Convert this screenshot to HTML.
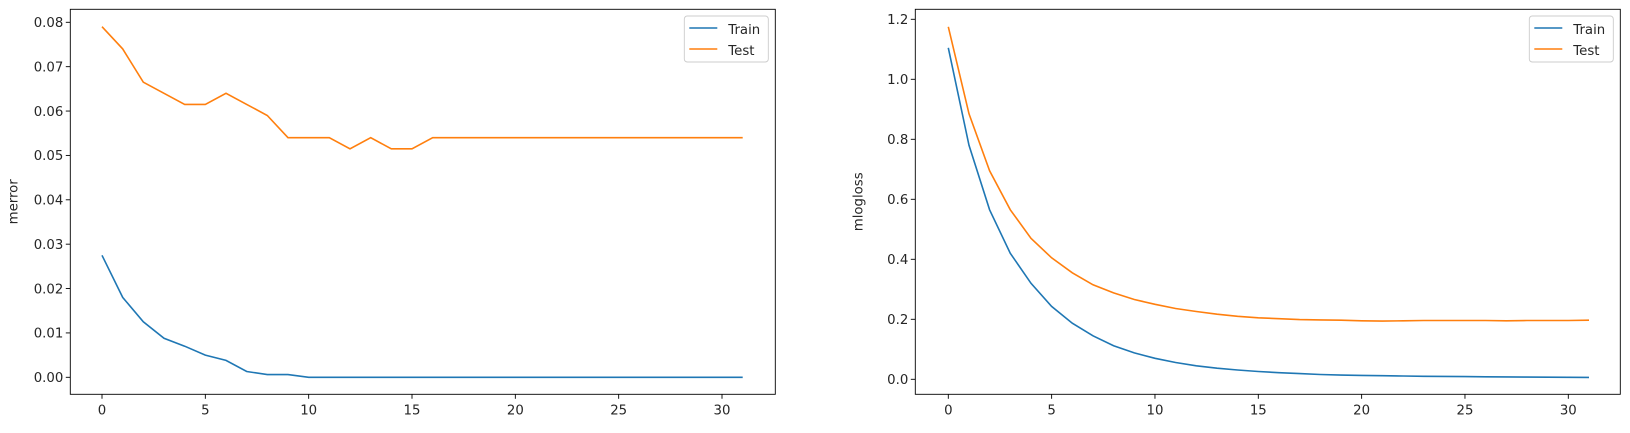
<!DOCTYPE html>
<html><head><meta charset="utf-8"><style>
body{margin:0;background:#fff;width:1630px;height:428px;overflow:hidden}
text{font-family:"DejaVu Sans","Liberation Sans",sans-serif;font-size:13.3px;fill:#262626}
</style></head><body>
<svg id="s" width="1630" height="428" xmlns="http://www.w3.org/2000/svg"></svg>
<script>
const s=document.getElementById('s');let h='';
function plot(L,x0,y0,yper,ydiv,yticks,yfmt,label,series){
  const R=L+705,T=9.3,B=394.3,X=i=>x0+i*20;
  const xs=i=>x0+i*(620/30);
  for(const t of [0,5,10,15,20,25,30]){const x=xs(t);h+=`<line x1="${x}" y1="${B}" x2="${x}" y2="${B+4.5}" stroke="#000" stroke-width="0.9"/><text x="${x}" y="${B+20}" text-anchor="middle">${t}</text>`;}
  for(const v of yticks){const y=y0-v/ydiv*yper;h+=`<line x1="${L-4.5}" y1="${y}" x2="${L}" y2="${y}" stroke="#000" stroke-width="0.9"/><text x="${L-7}" y="${y+4.8}" text-anchor="end">${v.toFixed(yfmt)}</text>`;}
  h+=`<text transform="translate(${L-53},${(T+B)/2}) rotate(-90)" text-anchor="middle">${label}</text>`;
  for(const [d,c] of series){h+=`<polyline fill="none" stroke="${c}" stroke-width="1.6" points="${d.map((v,i)=>xs(i).toFixed(1)+','+(y0-v/ydiv*yper).toFixed(1)).join(' ')}"/>`;}
  h+=`<rect x="${L}" y="${T}" width="705" height="${B-T}" fill="none" stroke="#000" stroke-width="0.9"/>`;
  const lx=R-91,ly=16;
  h+=`<rect x="${lx}" y="${ly}" width="84" height="46" rx="3" fill="#fff" fill-opacity="0.8" stroke="#ccc" stroke-width="0.9"/>`;
  h+=`<line x1="${lx+5}" y1="28" x2="${lx+33}" y2="28" stroke="#1f77b4" stroke-width="1.6"/><text x="${lx+44}" y="34">Train</text>`;
  h+=`<line x1="${lx+5}" y1="49" x2="${lx+33}" y2="49" stroke="#ff7f0e" stroke-width="1.6"/><text x="${lx+44}" y="55">Test</text>`;
}
const tr1=[0.0275,0.018,0.0125,0.0088,0.007,0.005,0.0038,0.0013,0.0006,0.0006,0];while(tr1.length<32)tr1.push(0);
const te1=[0.079,0.074,0.0665,0.064,0.0615,0.0615,0.064,0.0615,0.059,0.054,0.054,0.054,0.0515,0.054,0.0515,0.0515,0.054];while(te1.length<32)te1.push(0.054);
plot(70.3,102,377.3,44.375,0.01,[0,0.01,0.02,0.03,0.04,0.05,0.06,0.07,0.08],2,'merror',[[tr1,'#1f77b4'],[te1,'#ff7f0e']]);
const tr2=[1.105,0.78,0.565,0.42,0.32,0.243,0.187,0.145,0.112,0.088,0.07,0.056,0.045,0.037,0.031,0.026,0.022,0.019,0.016,0.014,0.013,0.012,0.011,0.010,0.0095,0.009,0.0085,0.008,0.0075,0.007,0.0068,0.0065];
const te2=[1.175,0.885,0.695,0.565,0.47,0.405,0.355,0.315,0.288,0.266,0.25,0.236,0.226,0.217,0.21,0.205,0.202,0.199,0.198,0.197,0.195,0.194,0.195,0.196,0.196,0.196,0.196,0.195,0.196,0.196,0.196,0.197];
plot(915.3,948.3,379.3,30,0.1,[0,0.2,0.4,0.6,0.8,1.0,1.2],1,'mlogloss',[[tr2,'#1f77b4'],[te2,'#ff7f0e']]);
s.innerHTML=h;
</script>
</body></html>
